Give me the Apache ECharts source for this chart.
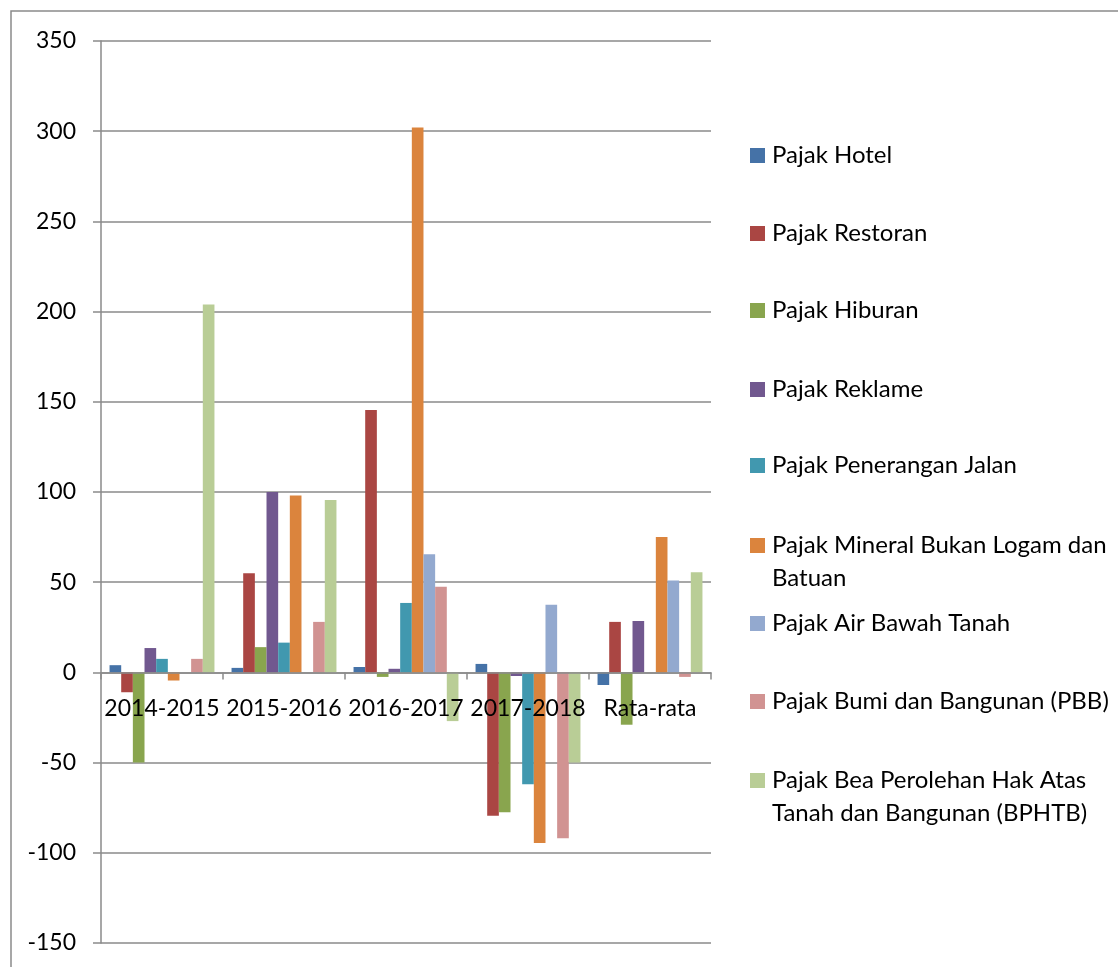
<!DOCTYPE html>
<html>
<head>
<meta charset="utf-8">
<title>Pajak Daerah</title>
<script src="https://cdn.jsdelivr.net/npm/echarts@6/dist/echarts.min.js"></script>
<style>
  html, body { margin: 0; padding: 0; background: #fff; }
  #main { width: 1118px; height: 967px; }
</style>
</head>
<body>
<div id="main"></div>
<script>
// kategori (periode)
const categories = ['2014-2015', '2015-2016', '2016-2017', '2017-2018', 'Rata-rata']

// nilai tiap jenis pajak
const hotel = [4, 2.5, 3, 4.7, -7]
const restoran = [-11, 55, 145.5, -79.5, 28]
const hiburan = [-50, 14, -2.5, -77.5, -29]
const reklame = [13.5, 100, 2, -2, 28.5]
const peneranganJalan = [7.5, 16.5, 38.5, -62, 0]
const mineral = [-4.5, 98, 302, -94.5, 75]
const airBawahTanah = [0, 0, 65.5, 37.5, 51]
const pbb = [7.5, 28, 47.5, -92, -2.5]
const bphtb = [204, 95.5, -27, -50, 55.5]

// sumbu y
const yMin = -150
const yMax = 350
const yStep = 50

const names = [
  'Pajak Hotel',
  'Pajak Restoran',
  'Pajak Hiburan',
  'Pajak Reklame',
  'Pajak Penerangan Jalan',
  'Pajak Mineral Bukan Logam dan\nBatuan',
  'Pajak Air Bawah Tanah',
  'Pajak Bumi dan Bangunan (PBB)',
  'Pajak Bea Perolehan Hak Atas\nTanah dan Bangunan (BPHTB)'
]
const values = [hotel, restoran, hiburan, reklame, peneranganJalan, mineral, airBawahTanah, pbb, bphtb]
const colors = ['#4572A7', '#AA4643', '#89A54E', '#71588F', '#4198AF', '#DB843D', '#93A9CF', '#D19392', '#B9CD96']

// posisi atas tiap legenda (layout saja)
const legendTops = [139, 217, 294, 373, 449, 496, 607, 685, 731]

const font = 'Lato, "Open Sans", sans-serif'
const gridTop = 41
const gridBottom = 24
const chartH = 967
const gridH = chartH - gridTop - gridBottom
// jarak garis nol dari dasar grid, supaya label kategori ikut di garis nol
const zeroOffset = gridH * (0 - yMin) / (yMax - yMin)

const chart = echarts.init(document.getElementById('main'))

const option = {
  animation: false,
  color: colors,
  grid: { left: 101, right: 407, top: gridTop, bottom: gridBottom, containLabel: false, outerBoundsMode: 'none' },
  graphic: [
    {
      type: 'rect',
      shape: { x: 11, y: 11, width: 1130, height: 980 },
      style: { fill: 'none', stroke: '#8a8a8a', lineWidth: 1.5 },
      silent: true
    }
  ],
  legend: names.map((n, i) => {
    const twoLine = n.indexOf('\n') >= 0
    return {
      orient: 'vertical',
      left: 750,
      top: legendTops[i],
      padding: 0,
      itemWidth: 15,
      itemHeight: 15,
      icon: 'rect',
      selectedMode: false,
      data: [n],
      formatter: '{t|{name}}',
      textStyle: {
        fontFamily: font,
        fontSize: 24,
        color: '#000',
        lineHeight: 33,
        padding: twoLine ? [33, 0, 0, 2] : [0, 0, 0, 2],
        rich: { t: { fontFamily: font, fontSize: 24, color: '#000', lineHeight: 33 } }
      }
    }
  }),
  xAxis: {
    type: 'category',
    data: categories,
    position: 'bottom',
    offset: -zeroOffset,
    z: 10,
    axisLine: { onZero: false, lineStyle: { color: '#8a8a8a', width: 1.5 } },
    axisTick: { show: true, length: 7, lineStyle: { color: '#8a8a8a', width: 1.5 } },
    axisLabel: { interval: 0, margin: 25, fontFamily: font, fontSize: 23, color: '#000' },
    splitLine: { show: false }
  },
  yAxis: {
    type: 'value',
    min: yMin,
    max: yMax,
    interval: yStep,
    axisLine: { show: true, lineStyle: { color: '#8a8a8a', width: 1.5 } },
    axisTick: { show: true, length: 8, lineStyle: { color: '#8a8a8a', width: 1.5 } },
    axisLabel: { margin: 25, fontFamily: font, fontSize: 23, color: '#000' },
    splitLine: { show: true, lineStyle: { color: '#8a8a8a', width: 1.5 } }
  },
  series: names.map((n, i) => ({
    name: n,
    type: 'bar',
    data: values[i],
    barGap: 0,
    barCategoryGap: '14%',
    itemStyle: { color: colors[i] }
  }))
}

option && chart.setOption(option)
</script>
</body>
</html>
